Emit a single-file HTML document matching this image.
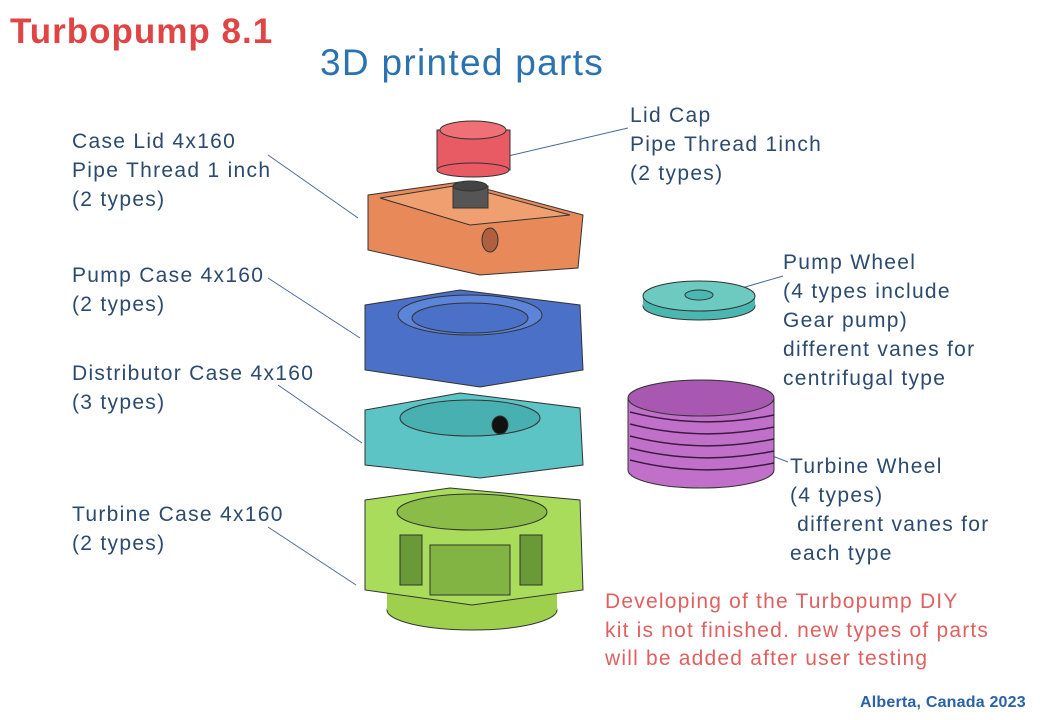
<!DOCTYPE html>
<html><head><meta charset="utf-8"><style>
body{margin:0;width:1040px;height:720px;background:#fff;overflow:hidden;position:relative;font-family:"Liberation Sans",sans-serif}
.t{position:absolute;white-space:nowrap}
.l{color:#2b4a6e;font-size:21px;line-height:29px;letter-spacing:1.3px}
.r{color:#e06060;font-size:21px;line-height:28.5px;letter-spacing:1.2px}
</style></head><body>
<svg width="1040" height="720" style="position:absolute;left:0;top:0">
<g stroke="#4a6a9a" stroke-width="1" fill="none">
<line x1="268" y1="155" x2="358" y2="218"/>
<line x1="628" y1="128" x2="508" y2="156"/>
<line x1="268" y1="278" x2="360" y2="338"/>
<line x1="278" y1="385" x2="362" y2="443"/>
<line x1="268" y1="527" x2="356" y2="585"/>
<line x1="783" y1="276" x2="735" y2="290"/>
<line x1="788" y1="462" x2="762" y2="452"/>
</g>
<g stroke="#333" stroke-width="1">
<ellipse cx="472" cy="610" rx="85" ry="20" fill="#9ed04e"/>
<rect x="387" y="580" width="170" height="30" fill="#9ed04e" stroke="none"/>
<polygon points="365,500 450,488 580,500 583,590 472,605 365,590" fill="#a8dc5a"/>
<ellipse cx="472" cy="512" rx="75" ry="18" fill="#8cbc48"/>
<rect x="400" y="535" width="22" height="50" fill="#6a9a38"/>
<rect x="430" y="545" width="80" height="50" fill="#82b444"/>
<rect x="520" y="535" width="22" height="50" fill="#6a9a38"/>
<polygon points="365,410 460,393 580,408 583,465 480,478 365,465" fill="#5cc4c4"/>
<ellipse cx="470" cy="418" rx="70" ry="18" fill="#48b0b0"/>
<ellipse cx="500" cy="425" rx="8" ry="9" fill="#111"/>
<polygon points="365,305 460,290 580,305 583,370 480,387 365,370" fill="#4a70c8"/>
<ellipse cx="470" cy="315" rx="72" ry="20" fill="#5c84d8"/>
<ellipse cx="470" cy="318" rx="58" ry="15" fill="#4a70c8"/>
<polygon points="368,195 460,182 583,215 578,268 480,275 368,250" fill="#e8895a"/>
<polygon points="380,198 460,185 570,215 470,225" fill="#f0a070"/>
<rect x="453" y="186" width="35" height="22" fill="#555"/>
<ellipse cx="470" cy="186" rx="17" ry="5" fill="#444"/>
<ellipse cx="490" cy="240" rx="8" ry="12" fill="#b06040"/>
<rect x="437" y="130" width="73" height="40" fill="#e85a64"/>
<ellipse cx="473" cy="170" rx="36" ry="7" fill="#e85a64"/>
<ellipse cx="473" cy="130" rx="33" ry="9" fill="#f07078"/>
<ellipse cx="699" cy="306" rx="56" ry="14" fill="#4ab8b0"/>
<rect x="643" y="296" width="112" height="10" fill="#4ab8b0" stroke="none"/>
<ellipse cx="699" cy="296" rx="56" ry="15" fill="#6ccac0"/>
<ellipse cx="699" cy="295" rx="14" ry="5" fill="#4ab8b0"/>
<ellipse cx="701" cy="470" rx="73" ry="18" fill="#c070c8"/>
<rect x="628" y="398" width="146" height="72" fill="#c070c8" stroke="none"/>
<line x1="628" y1="398" x2="628" y2="470"/><line x1="774" y1="398" x2="774" y2="470"/>
<ellipse cx="701" cy="398" rx="73" ry="18" fill="#a858b0"/>
</g>
<g stroke="#3a1a40" stroke-width="1.5" fill="none">
<path d="M630,412 Q700,430 774,415"/><path d="M630,424 Q700,442 774,427"/><path d="M630,436 Q700,454 774,439"/>
<path d="M630,448 Q700,466 774,451"/><path d="M630,460 Q700,478 774,463"/>
</g>
</svg>
<div class="t" style="left:10px;top:12px;color:#e04545;font-size:35px;font-weight:bold;letter-spacing:1px">Turbopump 8.1</div>
<div class="t" style="left:320px;top:42px;color:#2a72b0;font-size:37px;letter-spacing:1.3px">3D printed parts</div>
<div class="t l" style="left:72px;top:127px">Case Lid 4x160<br>Pipe Thread 1 inch<br>(2 types)</div>
<div class="t l" style="left:630px;top:101px">Lid Cap<br>Pipe Thread 1inch<br>(2 types)</div>
<div class="t l" style="left:72px;top:261px">Pump Case 4x160<br>(2 types)</div>
<div class="t l" style="left:783px;top:248px">Pump Wheel<br>(4 types include<br>Gear pump)<br>different vanes for<br>centrifugal type</div>
<div class="t l" style="left:72px;top:359px">Distributor Case 4x160<br>(3 types)</div>
<div class="t l" style="left:790px;top:452px">Turbine Wheel<br>(4 types)<br>&nbsp;different vanes for<br>each type</div>
<div class="t l" style="left:72px;top:500px">Turbine Case 4x160<br>(2 types)</div>
<div class="t r" style="left:605px;top:588px">Developing of the Turbopump DIY<br>kit is not finished. new types of parts<br>will be added after user testing</div>
<div class="t" style="left:860px;top:694px;color:#2a62a8;font-size:16px;font-weight:bold;letter-spacing:0.2px">Alberta, Canada 2023</div>
</body></html>
